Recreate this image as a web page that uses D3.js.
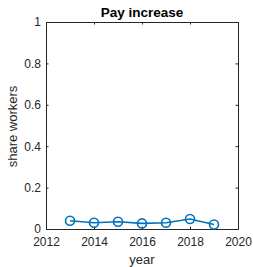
<!DOCTYPE html>
<html>
<head>
<meta charset="utf-8">
<script src="https://cdn.jsdelivr.net/npm/d3@7"></script>
<style>
  body { margin: 0; background: #fff; }
  svg { display: block; font-family: "Liberation Sans", Arial, sans-serif; }
  .axis text { fill: #262626; font-size: 12px; }
  .axis path, .axis line { stroke: #262626; }
</style>
</head>
<body>
<div id="chart"></div>
<script>
// data
const years = [2013, 2014, 2015, 2016, 2017, 2018, 2019];
const share = [0.040, 0.030, 0.035, 0.027, 0.030, 0.048, 0.022];
const xTicks = [2012, 2014, 2016, 2018, 2020];
const yTicks = [0, 0.2, 0.4, 0.6, 0.8, 1];

const width = 253, height = 267;
const margin = { top: 22, right: 15, bottom: 38, left: 46 };
const boundedWidth = width - margin.left - margin.right;
const boundedHeight = height - margin.top - margin.bottom;

const svg = d3.select('#chart').append('svg')
    .attr('width', width)
    .attr('height', height);

const bounds = svg.append('g')
    .attr('transform', `translate(${margin.left},${margin.top})`);

const xScale = d3.scaleLinear().domain([2012, 2020]).range([0, boundedWidth]);
const yScale = d3.scaleLinear().domain([0, 1]).range([boundedHeight, 0]);

// box with inward ticks on all four sides
const tick = 2.5;
bounds.append('g').attr('class', 'axis')
    .attr('transform', `translate(0,${boundedHeight})`)
    .call(d3.axisBottom(xScale).tickValues(xTicks).tickFormat(d3.format('d')).tickSize(-tick).tickPadding(8));
bounds.append('g').attr('class', 'axis')
    .call(d3.axisTop(xScale).tickValues(xTicks).tickSize(-tick).tickFormat(''));
bounds.append('g').attr('class', 'axis')
    .call(d3.axisLeft(yScale).tickValues(yTicks).tickFormat(d => d === 0 || d === 1 ? d : d3.format('.1f')(d)).tickSize(-tick).tickPadding(5));
bounds.append('g').attr('class', 'axis')
    .attr('transform', `translate(${boundedWidth},0)`)
    .call(d3.axisRight(yScale).tickValues(yTicks).tickSize(-tick).tickFormat(''));

bounds.selectAll('.axis path').attr('stroke-width', 1);

// line + circle markers
const pts = years.map((y, i) => ({ year: y, value: share[i] }));
bounds.append('path')
    .datum(pts)
    .attr('fill', 'none')
    .attr('stroke', '#0072BD')
    .attr('stroke-width', 1.6)
    .attr('d', d3.line().x(d => xScale(d.year)).y(d => yScale(d.value)));

bounds.selectAll('circle')
    .data(pts)
    .join('circle')
    .attr('cx', d => xScale(d.year))
    .attr('cy', d => yScale(d.value))
    .attr('r', 4.5)
    .attr('fill', 'none')
    .attr('stroke', '#0072BD')
    .attr('stroke-width', 1.6);

// title and labels
svg.append('text')
    .attr('x', margin.left + boundedWidth / 2)
    .attr('y', 17)
    .attr('text-anchor', 'middle')
    .attr('font-size', 13.5)
    .attr('font-weight', 'bold')
    .attr('fill', '#000')
    .text('Pay increase');

svg.append('text')
    .attr('x', margin.left + boundedWidth / 2)
    .attr('y', 264)
    .attr('text-anchor', 'middle')
    .attr('font-size', 13)
    .attr('fill', '#262626')
    .text('year');

svg.append('text')
    .attr('transform', 'rotate(-90)')
    .attr('x', -(margin.top + boundedHeight / 2) - 1)
    .attr('y', 17)
    .attr('text-anchor', 'middle')
    .attr('font-size', 13)
    .attr('fill', '#262626')
    .text('share workers');
</script>
</body>
</html>
